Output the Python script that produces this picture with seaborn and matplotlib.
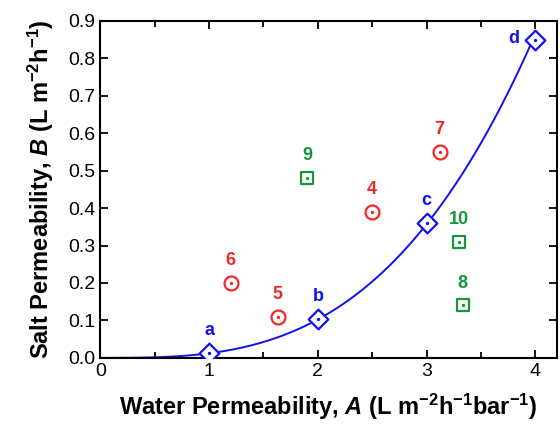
import numpy as np
import pandas as pd
import matplotlib
matplotlib.use('Agg')
import matplotlib.pyplot as plt
import seaborn as sns
from matplotlib.ticker import MultipleLocator

sns.set_style("ticks")
plt.rcParams['font.family'] = ['Liberation Sans', 'DejaVu Sans']
plt.rcParams['mathtext.fontset'] = 'custom'
plt.rcParams['mathtext.rm'] = 'Liberation Sans:bold'
plt.rcParams['mathtext.bf'] = 'Liberation Sans:bold'
plt.rcParams['mathtext.it'] = 'Liberation Sans:bold:italic'
plt.rcParams['text.color'] = 'black'
plt.rcParams['axes.labelcolor'] = 'black'
plt.rcParams['xtick.color'] = 'black'
plt.rcParams['ytick.color'] = 'black'

# Reference membranes (blue diamonds, fitted trade-off curve)
ref_labels = ['a', 'b', 'c', 'd']
ref_A = [1.0, 2.0, 3.0, 4.0]
ref_B = [0.012, 0.105, 0.36, 0.85]

# Red circles
red_labels = ['6', '5', '4', '7']
red_A = [1.2, 1.63, 2.5, 3.12]
red_B = [0.20, 0.11, 0.39, 0.55]

# Green squares
green_labels = ['9', '10', '8']
green_A = [1.9, 3.3, 3.33]
green_B = [0.48, 0.31, 0.14]

blue = '#1010f0'
red = '#f02828'
green = '#16973a'

# power-law fit of the reference points, B = k * A^n
n, logk = np.polyfit(np.log(ref_A), np.log(ref_B), 1)
fit = pd.DataFrame({'A': np.linspace(0, 4, 200)})
fit['B'] = np.exp(logk) * fit['A'] ** n

fig = plt.figure(figsize=(5.6, 4.25), dpi=100)
ax = fig.add_axes([0.179, 0.158, 0.816, 0.793])

sns.lineplot(data=fit, x='A', y='B', color=blue, lw=1.4, ax=ax)

groups = [
    (ref_A, ref_B, ref_labels, blue, 'D', 10),
    (red_A, red_B, red_labels, red, 'o', 10),
    (green_A, green_B, green_labels, green, 's', 9),
]
for xs, ys, labs, col, mk, ms in groups:
    df = pd.DataFrame({'A': xs, 'B': ys})
    sns.scatterplot(data=df, x='A', y='B', marker=mk, s=ms ** 2,
                    facecolor='white', edgecolor=col, linewidth=1.6,
                    zorder=3, ax=ax)
    ax.scatter(xs, ys, s=2, color=col, zorder=4)
    for x, y, lab in zip(xs, ys, labs):
        if lab == 'd':
            ax.annotate(lab, (x, y), xytext=(-12, 1), textcoords='offset points',
                        ha='right', va='center', color=col, fontsize=13,
                        fontweight='bold')
        else:
            ax.annotate(lab, (x, y), xytext=(0, 10), textcoords='offset points',
                        ha='center', va='bottom', color=col, fontsize=13,
                        fontweight='bold')

ax.set_xlim(0, 4.2)
ax.set_ylim(0, 0.9)
ax.xaxis.set_major_locator(MultipleLocator(1))
ax.xaxis.set_minor_locator(MultipleLocator(0.5))
ax.yaxis.set_major_locator(MultipleLocator(0.1))
ax.yaxis.set_major_formatter(matplotlib.ticker.FormatStrFormatter('%.1f'))
ax.tick_params(which='both', direction='in', top=True, right=True,
               width=1.3, labelsize=14)
ax.tick_params(which='major', length=6)
ax.tick_params(which='minor', length=4)
for sp in ax.spines.values():
    sp.set_linewidth(1.5)
    sp.set_color('black')

ax.set_xlabel(r'Water Permeability, $\mathit{A}$ (L m$^{-2}$h$^{-1}$bar$^{-1}$)',
              fontsize=17, fontweight='bold', labelpad=9)
ax.set_ylabel(r'Salt Permeability, $\mathit{B}$ (L m$^{-2}$h$^{-1}$)',
              fontsize=17, fontweight='bold', labelpad=9)

fig.savefig('out.png', dpi=100)
